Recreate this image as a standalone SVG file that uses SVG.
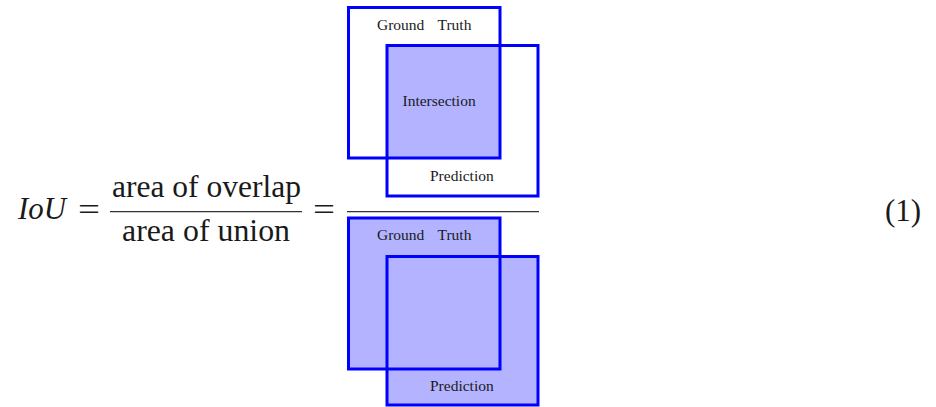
<svg xmlns="http://www.w3.org/2000/svg" width="936" height="407" viewBox="0 0 936 407">
<style>
.box{fill:none;stroke:#0000ff;stroke-width:3}
.fill{fill:#b3b3ff;stroke:none}
.lbl{font-family:"Liberation Serif","Times New Roman",serif;font-size:15.5px;fill:#1a1a1a}
.math{font-family:"Liberation Serif","Times New Roman",serif;font-size:31px;fill:#1a1a1a}
.bar{stroke:#333;stroke-width:1.3}
</style>
<rect width="936" height="407" fill="#fff"/>
<g id="equation">
<text class="math" x="18" y="218.5" font-style="italic" textLength="48" lengthAdjust="spacingAndGlyphs">IoU</text>
<text class="math" x="78" y="220" textLength="22" lengthAdjust="spacingAndGlyphs">=</text>
<text class="math" x="112" y="197" textLength="189" lengthAdjust="spacingAndGlyphs">area of overlap</text>
<line class="bar" x1="110" y1="211.7" x2="302" y2="211.7"/>
<text class="math" x="122" y="241" textLength="168" lengthAdjust="spacingAndGlyphs">area of union</text>
<text class="math" x="313" y="220" textLength="22" lengthAdjust="spacingAndGlyphs">=</text>
<line class="bar" x1="347" y1="211.7" x2="539" y2="211.7"/>
<text class="math" x="885" y="221">(1)</text>
</g>
<g id="intersection-diagram">
<rect class="fill" x="387" y="45.5" width="113" height="112.5"/>
<rect id="gt-top" class="box" x="348.5" y="7.5" width="151.5" height="150.5"/>
<rect id="pred-top" class="box" x="387" y="45.5" width="151" height="150.5"/>
<text class="lbl" x="377" y="29.5">Ground</text>
<text class="lbl" x="437.5" y="29.5">Truth</text>
<text class="lbl" x="402.5" y="106">Intersection</text>
<text class="lbl" x="430" y="180.5">Prediction</text>
</g>
<g id="union-diagram">
<rect class="fill" x="348.5" y="218" width="151.5" height="151"/>
<rect class="fill" x="387" y="256.5" width="151" height="148.5"/>
<rect id="gt-bottom" class="box" x="348.5" y="218" width="151.5" height="151"/>
<rect id="pred-bottom" class="box" x="387" y="256.5" width="151" height="148.5"/>
<text class="lbl" x="377" y="240">Ground</text>
<text class="lbl" x="437.5" y="240">Truth</text>
<text class="lbl" x="430" y="390.5">Prediction</text>
</g>
</svg>
